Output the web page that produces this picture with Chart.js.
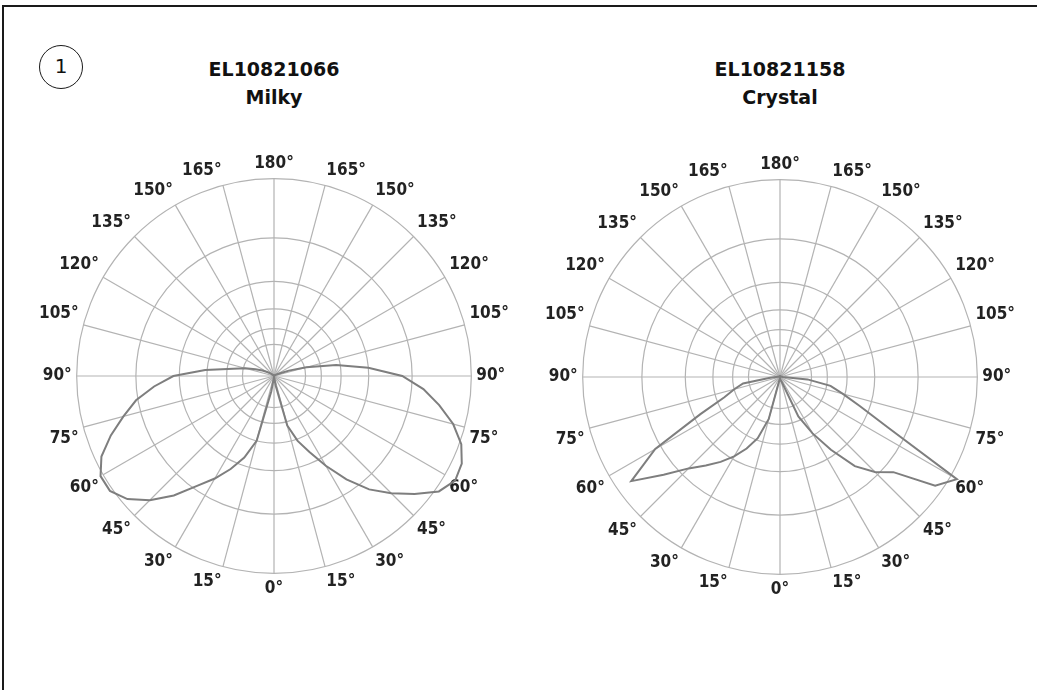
<!DOCTYPE html>
<html>
<head>
<meta charset="utf-8">
<script src="https://cdn.jsdelivr.net/npm/chart.js@4.4.1/dist/chart.umd.min.js"></script>
<style>
  body { margin: 0; width: 1037px; height: 690px; overflow: hidden; background: #fff; position: relative; }
  .frame { position: absolute; left: 2px; top: 5px; width: 1100px; height: 760px; border-top: 2px solid #1a1a1a; border-left: 2px solid #1a1a1a; }
  .badge { position: absolute; left: 39px; top: 45px; width: 44px; height: 44px; box-sizing: border-box; border: 1.6px solid #1a1a1a; border-radius: 50%;
           font: 20px "DejaVu Sans", sans-serif; color: #111; text-align: center; line-height: 41px; }
  .title { position: absolute; top: 55px; width: 300px; text-align: center; font: bold 19px/28px "DejaVu Sans", sans-serif; color: #111; }
  canvas { position: absolute; }
</style>
</head>
<body>
<div class="frame"></div>
<div class="badge">1</div>
<div class="title" style="left:124px">EL10821066<br>Milky</div>
<div class="title" style="left:630px">EL10821158<br>Crystal</div>
<canvas id="milkyChart" width="470" height="470" style="left:39px; top:141px"></canvas>
<canvas id="crystalChart" width="470" height="470" style="left:545px; top:142px"></canvas>

<script>
// ====== DATA ======
// vertical angle (0° = straight down, 180° = straight up), same on both halves
const gammaDeg = [0, 5, 10, 15, 20, 25, 30, 35, 40, 45, 50, 55, 60, 65, 70, 75, 80, 85, 90,
  95, 100, 105, 110, 115, 120, 125, 130, 135, 140, 145, 150, 155, 160, 165, 170, 175, 180];

// intensity in % of the outer ring, one value per gammaDeg entry
const milkyRight = [0, 0.5, 5, 26, 35, 42.5, 52.5, 64, 75, 84, 93, 102, 106, 105, 101, 94, 85, 76, 65,
  48, 32, 17, 8, 3, 1.5, 1, 0.5, 0.5, 0.5, 0.5, 0.5, 0.5, 0.5, 0.5, 0.5, 0.5, 0.5];
const milkyLeft = [0, 1, 8, 34, 44, 52, 60, 68, 79, 89, 97, 101.5, 101.5, 96.5, 88, 79, 71, 61, 51,
  35, 21, 15, 10, 6.5, 4, 2.5, 1.5, 0.5, 0.5, 0.5, 0.5, 0.5, 0.5, 0.5, 0.5, 0.5, 0.5];

const crystalRight = [0, 1, 1.5, 2, 3, 22, 33, 45, 59, 68, 75, 96, 103.5, 60, 43, 33, 26, 14, 1.5,
  1, 0.5, 0.5, 0.5, 0.5, 0.5, 0.5, 0.5, 0.5, 0.5, 0.5, 0.5, 0.5, 0.5, 0.5, 0.5, 0.5, 0.5];
const crystalLeft = [0, 1, 1.5, 22, 33, 40, 46.5, 52.5, 58.5, 65.5, 77, 92, 73, 44.5, 30, 24, 19, 5, 2,
  1, 0.5, 0.5, 0.5, 0.5, 0.5, 0.5, 0.5, 0.5, 0.5, 0.5, 0.5, 0.5, 0.5, 0.5, 0.5, 0.5, 0.5];

// concentric rings (first one is the centre, not drawn)
const ringValues = [0, 16, 24, 34, 48, 70, 100];
const labelStep = 15;

const gridColor = "#b3b3b3";
const curveColor = "#7e7e7e";

// ====== BUILD RADAR ORDER ======
// radar runs clockwise from the top: right half 180 -> 0, then left half 5 -> 175
const stepCount = gammaDeg.length - 1;

function gammaAt(i) {
  return i <= stepCount ? gammaDeg[stepCount - i] : gammaDeg[i - stepCount];
}

function buildValues(rightVals, leftVals) {
  const values = [];
  for (let i = 0; i < stepCount * 2; i++) {
    values.push(i <= stepCount ? rightVals[stepCount - i] : leftVals[i - stepCount]);
  }
  return values;
}

const radarLabels = [];
for (let i = 0; i < stepCount * 2; i++) {
  const g = gammaAt(i);
  radarLabels.push(g % labelStep === 0 ? g + "°" : "");
}

// ====== CHARTS ======
function drawPolar(canvasId, rightVals, leftVals) {
  const ctx = document.getElementById(canvasId).getContext("2d");
  return new Chart(ctx, {
    type: "radar",
    data: {
      labels: radarLabels,
      datasets: [{
        data: buildValues(rightVals, leftVals),
        borderColor: curveColor,
        borderWidth: 2,
        backgroundColor: "transparent",
        fill: false,
        pointRadius: 0,
        tension: 0
      }]
    },
    options: {
      responsive: false,
      animation: false,
      plugins: {
        legend: { display: false },
        tooltip: { enabled: false }
      },
      scales: {
        r: {
          min: 0,
          max: 100,
          startAngle: 0,
          ticks: { display: false },
          afterBuildTicks: function(scale) {
            scale.ticks = ringValues.map(v => ({ value: v }));
          },
          grid: { circular: true, color: gridColor, lineWidth: 1.2 },
          angleLines: {
            color: c => (gammaAt(c.index) % labelStep === 0 ? gridColor : "transparent"),
            lineWidth: c => (gammaAt(c.index) % labelStep === 0 ? 1.2 : 0)
          },
          pointLabels: {
            display: true,
            padding: 5,
            color: "#222",
            font: {
              family: "'Liberation Sans Narrow', 'DejaVu Sans Condensed', 'Liberation Sans', sans-serif",
              size: 17,
              weight: "bold"
            }
          }
        }
      }
    }
  });
}

drawPolar("milkyChart", milkyRight, milkyLeft);
drawPolar("crystalChart", crystalRight, crystalLeft);
</script>
</body>
</html>
